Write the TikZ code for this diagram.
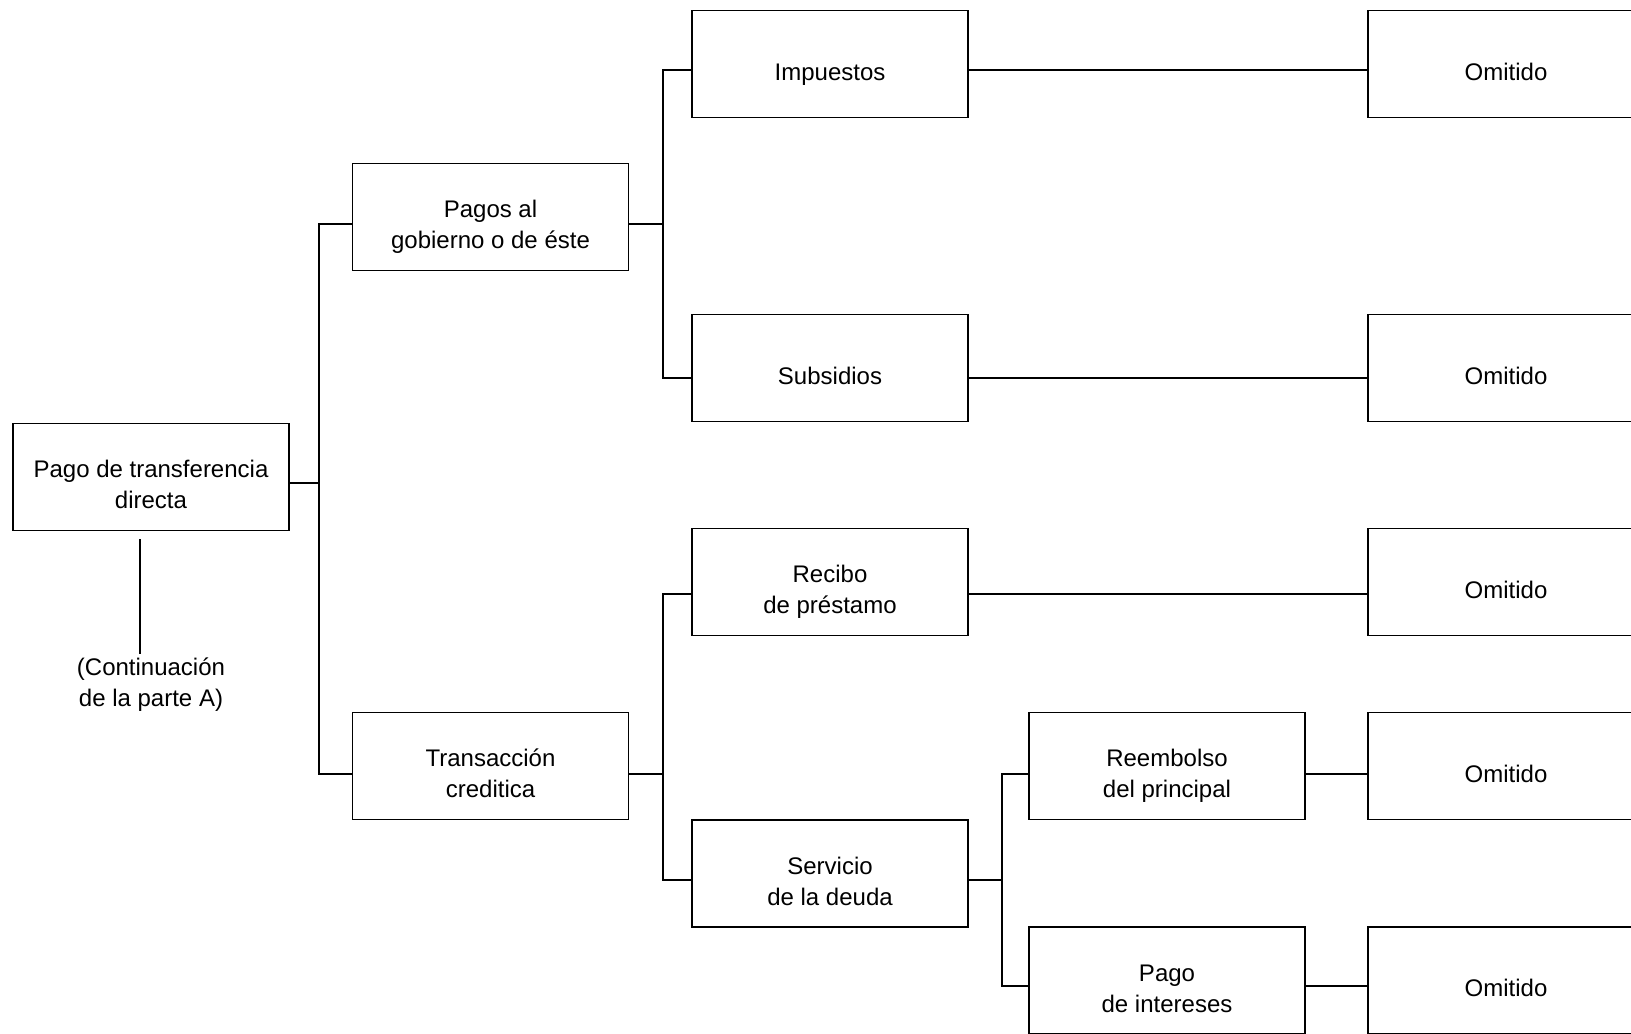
\documentclass[tikz,border=0pt]{standalone}
\usepackage{fontspec}
\setmainfont{Liberation Sans}
\usepackage{tikz}
\usetikzlibrary{calc,positioning}

\newcommand{\tope}{\rule{0pt}{19pt}}

\tikzset{
  caja/.style={draw, line width=0.8pt, minimum width=138pt, minimum height=53.5pt,
    inner sep=0pt, align=center, font=\fontsize{12}{15.5}\selectfont,
    execute at begin node={\tope},
    execute at end node={\rule[-3pt]{0pt}{0pt}}},
  linea/.style={line width=1pt}
}

\begin{document}
\begin{tikzpicture}[x=0.5pt, y=-0.5pt]
    \useasboundingbox (0,0) rectangle (1631,1033);

    \node[caja] (raiz) at (151,477) {\tope Pago de transferencia\\directa};
    \node[align=center, inner sep=2pt, font=\fontsize{12}{15.5}\selectfont] (cont) at (151,685) {(Continuación\\de la parte A)};

    \node[caja] (pagos) at (490.5,217) {\tope Pagos al\\gobierno o de éste};
    \node[caja] (trans) at (490.5,766) {\tope Transacción\\creditica};

    \node[caja] (imp) at (830,64) {Impuestos};
    \node[caja] (sub) at (830,368) {Subsidios};
    \node[caja] (rec) at (830,582) {\tope Recibo\\de préstamo};
    \node[caja] (serv) at (830,873.5) {\tope Servicio\\de la deuda};

    \node[caja] (reemb) at (1167,766) {\tope Reembolso\\del principal};
    \node[caja] (pint) at (1167,980.5) {\tope Pago\\de intereses};

    \node[caja] (om1) at (1506,64) {Omitido};
    \node[caja] (om2) at (1506,368) {Omitido};
    \node[caja] (om3) at (1506,582) {Omitido};
    \node[caja] (om4) at (1506,766) {Omitido};
    \node[caja] (om5) at (1506,980.5) {Omitido};

    \draw[linea] ($(raiz.south) + (-11,8)$) -- ($(cont.north) + (-11,0)$);

    \draw[linea] ($(raiz.east) + (0,6)$) -- ++(29,0) coordinate (j1) |- ($(pagos.west) + (0,6.5)$);
    \draw[linea] (j1) |- ($(trans.west) + (0,8)$);

    \draw[linea] ($(pagos.east) + (0,6.5)$) -- ++(33.5,0) coordinate (j2) |- ($(imp.west) + (0,6)$);
    \draw[linea] (j2) |- ($(sub.west) + (0,10)$);

    \draw[linea] ($(trans.east) + (0,8)$) -- ++(33.5,0) coordinate (j3) |- ($(rec.west) + (0,12)$);
    \draw[linea] (j3) |- ($(serv.west) + (0,6)$);

    \draw[linea] ($(serv.east) + (0,6)$) -- ++(33.5,0) coordinate (j4) |- ($(reemb.west) + (0,8)$);
    \draw[linea] (j4) |- ($(pint.west) + (0,5)$);

    \draw[linea] ($(imp.east) + (0,6)$) -- ($(om1.west) + (0,6)$);
    \draw[linea] ($(sub.east) + (0,10)$) -- ($(om2.west) + (0,10)$);
    \draw[linea] ($(rec.east) + (0,12)$) -- ($(om3.west) + (0,12)$);
    \draw[linea] ($(reemb.east) + (0,8)$) -- ($(om4.west) + (0,8)$);
    \draw[linea] ($(pint.east) + (0,5)$) -- ($(om5.west) + (0,5)$);

  \end{tikzpicture}
\end{document}
